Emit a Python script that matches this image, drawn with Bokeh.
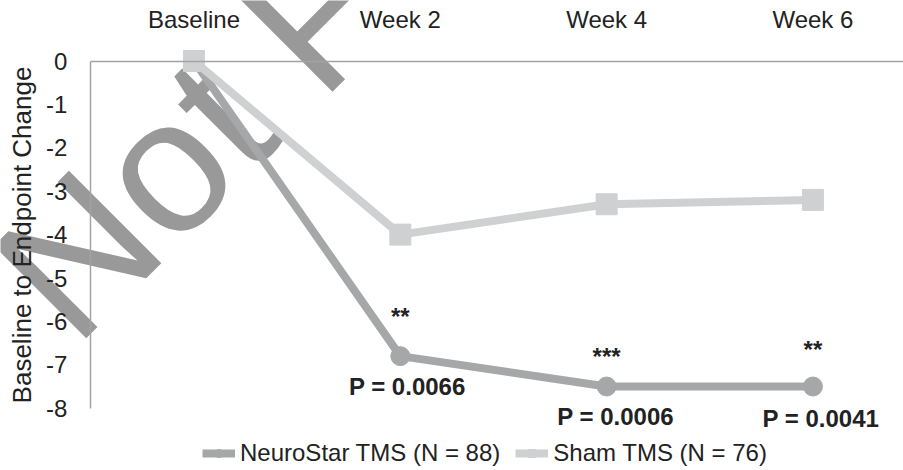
from bokeh.plotting import figure
from bokeh.models import (ColumnDataSource, Range1d, FixedTicker, Label,
                          Legend, LegendItem)
from bokeh.core.properties import value
from bokeh.embed import file_html
from bokeh.resources import INLINE

# Visits and mean change from baseline
visits = ["Baseline", "Week 2", "Week 4", "Week 6"]
neurostar = [0.0, -6.8, -7.5, -7.5]
sham = [0.0, -4.0, -3.3, -3.2]

# Significance markers and p-values for the active arm (weeks 2-6)
stars = ["**", "***", "**"]
p_values = ["P = 0.0066", "P = 0.0006", "P = 0.0041"]

y_ticks = [0, -1, -2, -3, -4, -5, -6, -7, -8]
y_tick_labels = ["0", "-1", "-2", "-3", "-4", "-5", "-6", "-7", "-8"]

series_names = ["NeuroStar TMS (N = 88)", "Sham TMS (N = 76)"]

FONT = "Liberation Sans"
ACTIVE = "#a6a7a9"
SHAM = "#cfd0d2"
AXIS = "#a3a3a3"
TEXT = "#222222"

x = list(range(len(visits)))

# The frame fills the whole canvas; the axes are pinned inside it so the
# watermark and the bottom annotations are not cut off at the plot edges.
X_LEFT = -0.502          # left edge of the plotting area
p = figure(width=903, height=470, output_backend="svg", toolbar_location=None,
           x_axis_location="above",
           x_range=Range1d(-0.938, 3.439), y_range=Range1d(-9.435, 1.394),
           min_border=0)
p.outline_line_color = None
p.xgrid.visible = False
p.ygrid.visible = False
p.background_fill_color = "white"
p.border_fill_color = "white"

# Watermark behind everything
p.add_layout(Label(x=28, y=168, x_units="screen", y_units="screen",
                   text="Not For Distribution", angle=45, angle_units="deg",
                   text_font=FONT, text_font_size="190px",
                   text_baseline="alphabetic", text_align="left",
                   text_color="#999999", level="underlay"))

# Category axis along the zero line at the top
xa = p.xaxis[0]
xa.fixed_location = 0
xa.bounds = (X_LEFT, 3.439)
xa.ticker = FixedTicker(ticks=x)
xa.major_label_overrides = {i: v for i, v in zip(x, visits)}
xa.axis_line_color = AXIS
xa.axis_line_width = 1.5
xa.major_tick_line_color = None
xa.minor_tick_line_color = None
xa.major_label_text_font = FONT
xa.major_label_text_font_size = "24px"
xa.major_label_text_color = TEXT
xa.major_label_standoff = 22

ya = p.yaxis[0]
ya.fixed_location = X_LEFT
ya.bounds = (-8, 0)
ya.ticker = FixedTicker(ticks=y_ticks)
ya.major_label_overrides = {t: s for t, s in zip(y_ticks, y_tick_labels)}
ya.axis_line_color = AXIS
ya.axis_line_width = 1.5
ya.major_tick_line_color = None
ya.minor_tick_line_color = None
ya.major_label_text_font = FONT
ya.major_label_text_font_size = "24px"
ya.major_label_text_color = TEXT
ya.major_label_standoff = 17
ya.axis_label = "Baseline to Endpoint Change"
ya.axis_label_text_font = FONT
ya.axis_label_text_font_size = "26px"
ya.axis_label_text_font_style = "normal"
ya.axis_label_text_color = TEXT
ya.axis_label_standoff = 6

src = ColumnDataSource(dict(x=x, neuro=neurostar, sham=sham))

l1 = p.line("x", "neuro", source=src, line_color=ACTIVE, line_width=8,
            line_join="round")
m1 = p.scatter("x", "neuro", source=src, marker="circle", size=19,
               fill_color=ACTIVE, line_color=ACTIVE)
l2 = p.line("x", "sham", source=src, line_color=SHAM, line_width=8,
            line_join="round")
m2 = p.scatter("x", "sham", source=src, marker="square", size=21,
               fill_color=SHAM, line_color=SHAM)

# Annotations for the post-baseline visits
star_dy = [-40, -30, -37]
p_dx = [7, 9, 8]
p_dy = [30, 30, 32]
ann = ColumnDataSource(dict(x=x[1:], y=neurostar[1:], stars=stars,
                            pv=p_values, sdy=star_dy, pdx=p_dx, pdy=p_dy))
p.text("x", "y", text="stars", source=ann, y_offset="sdy",
       text_align="center", text_baseline="alphabetic",
       text_font=value(FONT), text_font_size="24px",
       text_font_style="bold", text_color=TEXT)
p.text("x", "y", text="pv", source=ann, x_offset="pdx", y_offset="pdy",
       text_align="center", text_baseline="alphabetic",
       text_font=value(FONT), text_font_size="24px",
       text_font_style="bold", text_color=TEXT)

legend = Legend(items=[LegendItem(label=series_names[0], renderers=[l1, m1]),
                       LegendItem(label=series_names[1], renderers=[l2, m2])],
                location=(202, 3), orientation="horizontal",
                border_line_alpha=0, background_fill_alpha=0,
                label_text_font=FONT, label_text_font_size="24px",
                label_text_color=TEXT,
                glyph_width=33, glyph_height=20, label_standoff=5,
                spacing=15, padding=0, margin=0)
p.add_layout(legend, "center")

open("out.html", "w").write(file_html(p, INLINE))
